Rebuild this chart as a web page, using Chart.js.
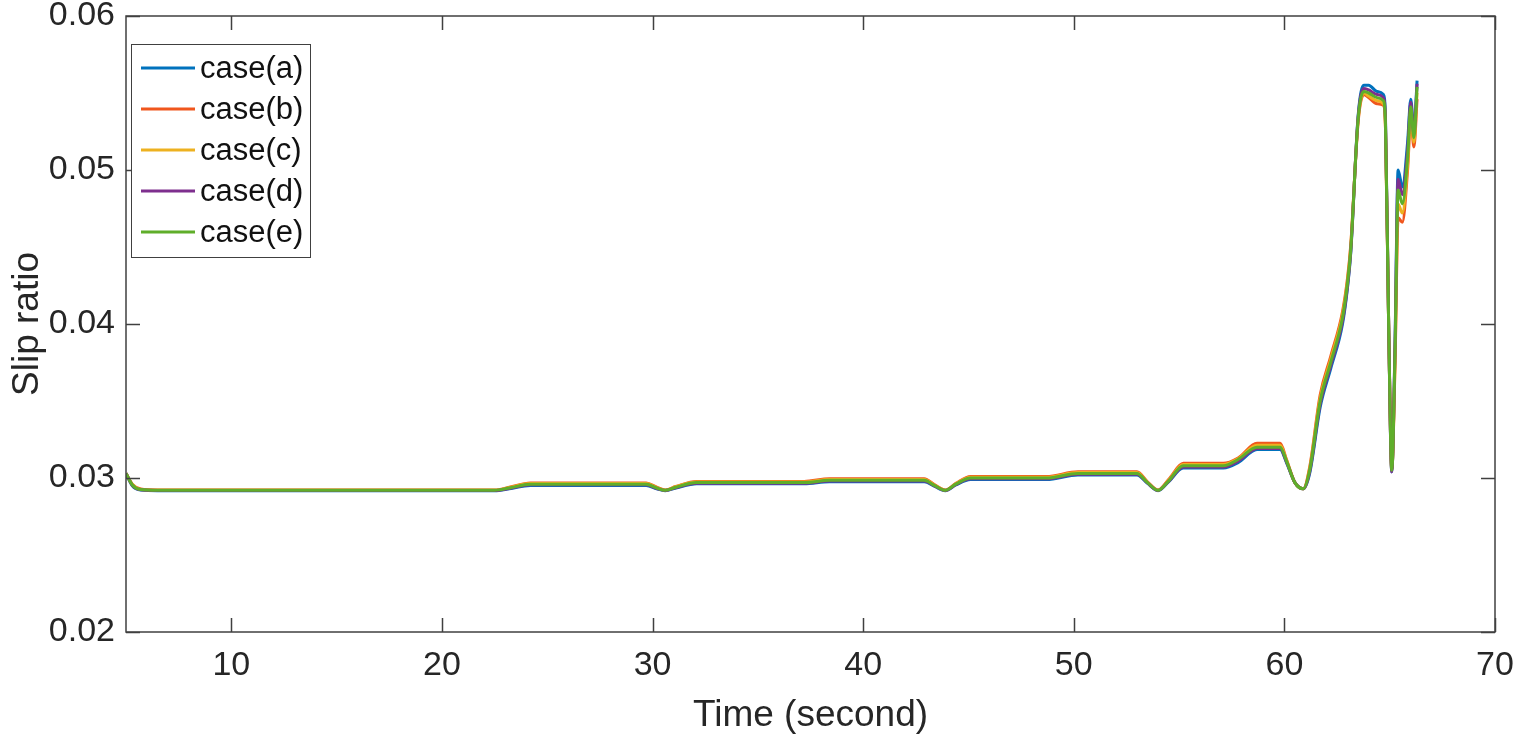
<!DOCTYPE html>
<html>
<head>
<meta charset="utf-8">
<script src="https://cdn.jsdelivr.net/npm/chart.js@4"></script>
<style>
  html, body { margin: 0; padding: 0; background: #fff; }
  #wrap { width: 1520px; height: 742px; }
</style>
</head>
<body>
<div id="wrap"><canvas id="myChart" width="1520" height="742"></canvas></div>
<script>
const time = [5.0, 5.3, 5.7, 6.5, 22.5, 23.2, 24.2, 29.7, 30.2, 30.6, 31.1, 32.1, 37.2, 38.4, 42.9, 43.4, 43.9, 44.4, 45.1, 48.7,
  50.2, 53.0, 53.5, 54.0, 54.5, 55.2, 57.1, 57.8, 58.7, 59.8, 60.1, 60.5, 60.9, 61.2, 61.7, 62.2, 62.76, 63.0, 63.15, 63.5,
  63.77, 64.0, 64.4, 64.7, 64.8, 64.95, 65.1, 65.25, 65.4, 65.6, 65.85, 66.0, 66.15, 66.3];

const caseA = [0.0303, 0.0295, 0.02922, 0.02918, 0.02918, 0.0293, 0.02952, 0.02952, 0.0293, 0.02918, 0.02935, 0.02962, 0.02962, 0.02975, 0.02975, 0.02945, 0.02918, 0.02955, 0.0299, 0.0299,
  0.0302, 0.0302, 0.02965, 0.02918, 0.02975, 0.03065, 0.03065, 0.0310, 0.03185, 0.03185, 0.0310, 0.0297, 0.0293, 0.0303, 0.0346, 0.0371, 0.0400, 0.0424, 0.0446, 0.0535,
  0.0555, 0.0555, 0.0551, 0.0549, 0.0534, 0.0400, 0.0304, 0.0385, 0.0500, 0.0489, 0.0518, 0.0546, 0.0525, 0.0558];
const caseB = [0.0303, 0.0296, 0.02928, 0.02922, 0.02922, 0.0294, 0.02968, 0.02968, 0.0294, 0.02922, 0.02945, 0.02978, 0.02978, 0.02995, 0.02995, 0.02955, 0.02922, 0.02965, 0.0301, 0.0301,
  0.0304, 0.0304, 0.02975, 0.02922, 0.0299, 0.03095, 0.03095, 0.0313, 0.03225, 0.03225, 0.0312, 0.0297, 0.0293, 0.0307, 0.0354, 0.0379, 0.0408, 0.0430, 0.0451, 0.0531,
  0.0549, 0.0547, 0.0543, 0.0542, 0.0527, 0.0400, 0.0306, 0.0372, 0.0469, 0.0466, 0.0500, 0.0534, 0.0515, 0.0546];
const caseC = [0.0303, 0.02958, 0.02926, 0.02921, 0.02921, 0.02938, 0.02964, 0.02964, 0.02938, 0.02921, 0.02943, 0.02974, 0.02974, 0.0299, 0.0299, 0.02953, 0.02921, 0.02962, 0.03005, 0.03005,
  0.03035, 0.03035, 0.02972, 0.02921, 0.02985, 0.03088, 0.03088, 0.03125, 0.03212, 0.03212, 0.03115, 0.0297, 0.0293, 0.0306, 0.0352, 0.0377, 0.0406, 0.0428, 0.0450, 0.0532,
  0.0550, 0.0548, 0.0545, 0.0543, 0.0528, 0.0400, 0.0305, 0.0375, 0.0478, 0.0472, 0.0504, 0.0537, 0.0518, 0.0550];
const caseD = [0.0303, 0.02952, 0.02923, 0.02919, 0.02919, 0.02932, 0.02956, 0.02956, 0.02932, 0.02919, 0.02937, 0.02966, 0.02966, 0.0298, 0.0298, 0.02948, 0.02919, 0.02957, 0.02995, 0.02995,
  0.03025, 0.03025, 0.02968, 0.02919, 0.02978, 0.03072, 0.03072, 0.0311, 0.03192, 0.03192, 0.03105, 0.0297, 0.0293, 0.0304, 0.0348, 0.0373, 0.0402, 0.0425, 0.0447, 0.0534,
  0.0553, 0.0552, 0.0549, 0.0547, 0.0532, 0.0400, 0.0304, 0.0383, 0.0494, 0.0484, 0.0513, 0.0544, 0.0523, 0.0556];
const caseE = [0.0303, 0.02955, 0.02925, 0.0292, 0.0292, 0.02935, 0.0296, 0.0296, 0.02935, 0.0292, 0.0294, 0.0297, 0.0297, 0.02985, 0.02985, 0.0295, 0.0292, 0.0296, 0.0300, 0.0300,
  0.0303, 0.0303, 0.0297, 0.0292, 0.0298, 0.0308, 0.0308, 0.0312, 0.0320, 0.0320, 0.0311, 0.0297, 0.0293, 0.0305, 0.0350, 0.0375, 0.0404, 0.0427, 0.0448, 0.0533,
  0.0551, 0.0550, 0.0547, 0.0545, 0.0530, 0.0400, 0.0305, 0.0380, 0.0487, 0.0478, 0.0508, 0.0541, 0.0521, 0.0554];

const caseNames = ["case(a)", "case(b)", "case(c)", "case(d)", "case(e)"];
const caseColors = ["#0072BD", "#F0561D", "#EDB120", "#7E2F8E", "#5FAE2A"];
const xTicks = [10, 20, 30, 40, 50, 60, 70];
const yTicks = [0.02, 0.03, 0.04, 0.05, 0.06];

const FONT = "'Liberation Sans', Arial, Helvetica, sans-serif";
const AXIS = "#404040";

const toPoints = (values) => values.map((v, i) => ({ x: time[i], y: v }));

const seriesList = [caseA, caseB, caseC, caseD, caseE];
const datasets = seriesList.map((values, i) => ({
  label: caseNames[i],
  data: toPoints(values),
  borderColor: caseColors[i],
  backgroundColor: caseColors[i],
  borderWidth: 3,
  pointRadius: 0,
  cubicInterpolationMode: "monotone",
  // matlab draws the last line on top
  order: seriesList.length - i,
}));

// box with inward ticks on all four sides
const framePlugin = {
  id: "frame",
  afterDatasetsDraw(chart) {
    const ctx = chart.ctx;
    const area = chart.chartArea;
    const xs = chart.scales.x;
    const ys = chart.scales.y;
    const len = 14;
    ctx.save();
    ctx.strokeStyle = AXIS;
    ctx.lineWidth = 1.5;
    ctx.strokeRect(area.left, area.top, area.right - area.left, area.bottom - area.top);
    ctx.beginPath();
    xTicks.forEach((v) => {
      const px = Math.round(xs.getPixelForValue(v)) + 0.5;
      ctx.moveTo(px, area.bottom);
      ctx.lineTo(px, area.bottom - len);
      ctx.moveTo(px, area.top);
      ctx.lineTo(px, area.top + len);
    });
    yTicks.forEach((v) => {
      const py = Math.round(ys.getPixelForValue(v)) + 0.5;
      ctx.moveTo(area.left, py);
      ctx.lineTo(area.left + len, py);
      ctx.moveTo(area.right, py);
      ctx.lineTo(area.right - len, py);
    });
    ctx.stroke();
    ctx.restore();
  },
};

// legend box in the upper left corner of the axes
const legendPlugin = {
  id: "boxLegend",
  afterDraw(chart) {
    const ctx = chart.ctx;
    const area = chart.chartArea;
    const boxX = area.left + 5;
    const boxY = area.top + 28;
    const boxW = 179;
    const boxH = 213;
    ctx.save();
    ctx.fillStyle = "#fff";
    ctx.fillRect(boxX, boxY, boxW, boxH);
    ctx.strokeStyle = AXIS;
    ctx.lineWidth = 1;
    ctx.strokeRect(boxX + 0.5, boxY + 0.5, boxW, boxH);
    ctx.font = `31px ${FONT}`;
    ctx.textBaseline = "middle";
    ctx.textAlign = "left";
    caseNames.forEach((name, i) => {
      const y = boxY + 24 + i * 41;
      ctx.strokeStyle = caseColors[i];
      ctx.lineWidth = 3;
      ctx.beginPath();
      ctx.moveTo(boxX + 10, y);
      ctx.lineTo(boxX + 64, y);
      ctx.stroke();
      ctx.fillStyle = "#111";
      ctx.fillText(name, boxX + 69, y + 1);
    });
    ctx.restore();
  },
};

const config = {
  type: "line",
  data: { datasets: datasets },
  options: {
    responsive: false,
    animation: false,
    layout: { padding: { top: 16, right: 25, left: 0, bottom: 0 } },
    plugins: {
      legend: { display: false },
      tooltip: { enabled: false },
    },
    scales: {
      x: {
        type: "linear",
        min: 5,
        max: 70,
        afterBuildTicks: (scale) => { scale.ticks = xTicks.map((v) => ({ value: v })); },
        afterFit: (scale) => {
          scale.height = 110;
          scale.paddingLeft = 0;
          scale.paddingRight = 0;
        },
        grid: { display: false, drawTicks: false },
        border: { display: false },
        ticks: {
          color: "#262626",
          padding: 17,
          maxRotation: 0,
          font: { family: FONT, size: 34, lineHeight: 1 },
        },
        title: {
          display: true,
          text: "Time (second)",
          color: "#262626",
          padding: { top: 0, bottom: 4 },
          font: { family: FONT, size: 37, lineHeight: 1.2 },
        },
      },
      y: {
        type: "linear",
        min: 0.02,
        max: 0.06,
        afterBuildTicks: (scale) => { scale.ticks = yTicks.map((v) => ({ value: v })); },
        afterFit: (scale) => {
          scale.width = 126;
          scale.paddingTop = 0;
          scale.paddingBottom = 0;
        },
        grid: { display: false, drawTicks: false },
        border: { display: false },
        ticks: {
          color: "#262626",
          padding: 11,
          font: { family: FONT, size: 34, lineHeight: 1 },
          callback: (v) => Number(v).toFixed(2),
        },
        title: {
          display: true,
          text: "Slip ratio",
          color: "#262626",
          padding: { top: 6, bottom: 0 },
          font: { family: FONT, size: 37, lineHeight: 1.2 },
        },
      },
    },
  },
  plugins: [framePlugin, legendPlugin],
};

const myChart = new Chart(document.getElementById("myChart"), config);
</script>
</body>
</html>
